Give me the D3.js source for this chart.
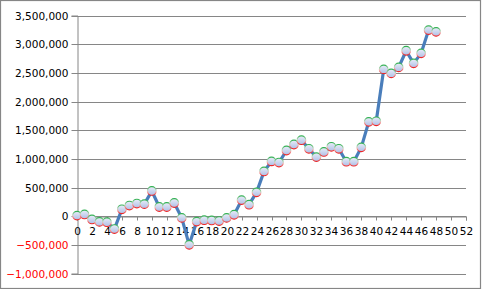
<!DOCTYPE html>
<html><head><meta charset="utf-8">
<script src="https://cdn.jsdelivr.net/npm/d3@7"></script>
<style>body{margin:0;background:#fff}svg{display:block}</style>
</head><body>
<script>
const xValues = d3.range(0, 49);
const seriesValues = [10000, 30000, -57000, -100000, -105000, -225000, 120000, 185000, 220000, 210000,
  440000, 160000, 160000, 230000, -30000, -500000, -95000, -70000, -75000, -85000,
  -30000, 25000, 280000, 200000, 415000, 780000, 955000, 935000, 1145000, 1250000,
  1325000, 1175000, 1030000, 1120000, 1210000, 1175000, 950000, 950000, 1200000, 1645000,
  1655000, 2560000, 2490000, 2595000, 2885000, 2665000, 2840000, 3245000, 3215000];
const yTicks = [-1000000, -500000, 0, 500000, 1000000, 1500000, 2000000, 2500000, 3000000, 3500000];
const xTicks = d3.range(0, 53, 2);

const W = 482, H = 289;
const svg = d3.select("body").append("svg").attr("width", W).attr("height", H);
const font = "'DejaVu Sans', Verdana, sans-serif";

svg.append("rect").attr("x", 0.5).attr("y", 0.5).attr("width", 480).attr("height", 288)
  .attr("fill", "#fff").attr("stroke", "#868686").attr("stroke-width", 1.2);

const x = d3.scaleLinear().domain([0, 52]).range([77, 466]);
const y = d3.scaleLinear().domain([-1000000, 3500000]).range([273.5, 15.5]);

// gridlines
svg.append("g").selectAll("line").data(yTicks).join("line")
  .attr("x1", 77).attr("x2", 466)
  .attr("y1", d => Math.round(y(d)) + 0.5).attr("y2", d => Math.round(y(d)) + 0.5)
  .attr("stroke", "#868686").attr("stroke-width", 1);

// y axis
const yAxis = svg.append("g").attr("transform", "translate(77.5,0)")
  .call(d3.axisLeft(y).tickValues(yTicks).tickSize(6).tickPadding(3).tickFormat(d3.format(",")));
yAxis.select(".domain").attr("stroke", "#868686");
yAxis.selectAll(".tick line").attr("stroke", "#868686");
yAxis.selectAll(".tick").attr("transform", d => `translate(0,${Math.round(y(d)) + 0.5})`);
yAxis.selectAll("text").attr("font-family", font).attr("font-size", "10.5px")
  .attr("fill", d => d < 0 ? "#ff0000" : "#000");

// x axis at zero
const xAxis = svg.append("g").attr("transform", `translate(0,${Math.round(y(0)) + 0.5})`)
  .call(d3.axisBottom(x).tickValues(xTicks).tickSize(4).tickPadding(7).tickFormat(d3.format("d")));
xAxis.select(".domain").attr("stroke", "#868686");
xAxis.selectAll(".tick line").attr("stroke", "#868686");
xAxis.selectAll(".tick").attr("transform", d => `translate(${Math.round(x(d)) + 0.5},0)`);
xAxis.selectAll("text").attr("font-family", font).attr("font-size", "10.5px").attr("fill", "#000");

// gradients
const defs = svg.append("defs");
const fillG = defs.append("linearGradient").attr("id", "mfill").attr("x1", 0).attr("y1", 0).attr("x2", 0).attr("y2", 1);
fillG.append("stop").attr("offset", "0%").attr("stop-color", "#e9ecf8");
fillG.append("stop").attr("offset", "100%").attr("stop-color", "#aebfe6");
const strG = defs.append("linearGradient").attr("id", "mstroke").attr("x1", 0).attr("y1", 0).attr("x2", 0).attr("y2", 1);
strG.append("stop").attr("offset", "0%").attr("stop-color", "#2fb050");
strG.append("stop").attr("offset", "45%").attr("stop-color", "#c8d8c8");
strG.append("stop").attr("offset", "60%").attr("stop-color", "#f0b0b0");
strG.append("stop").attr("offset", "100%").attr("stop-color", "#ee2020");

const data = xValues.map((d, i) => [d, seriesValues[i]]);
svg.append("path").datum(data)
  .attr("fill", "none").attr("stroke", "#4a7ebb").attr("stroke-width", 3.2)
  .attr("stroke-linejoin", "round")
  .attr("d", d3.line().x(d => x(d[0])).y(d => y(d[1])));

svg.append("g").selectAll("circle").data(data).join("circle")
  .attr("cx", d => x(d[0])).attr("cy", d => y(d[1])).attr("r", 4.3)
  .attr("fill", "url(#mfill)").attr("stroke", "url(#mstroke)").attr("stroke-width", 1.2);
</script>
</body></html>
